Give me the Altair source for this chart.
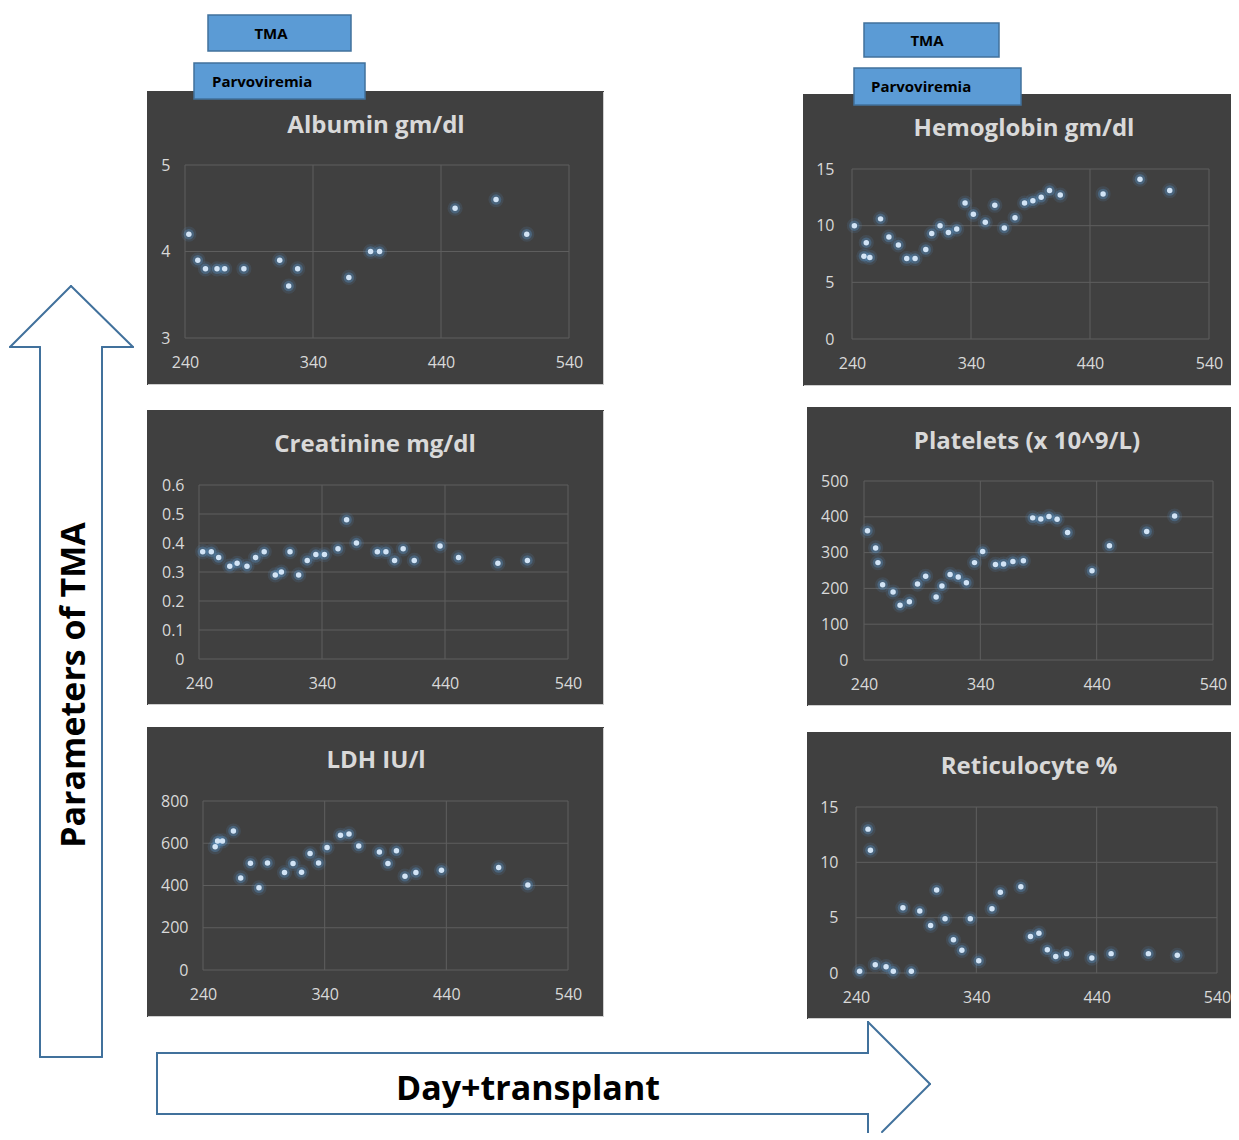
import altair as alt
import pandas as pd

FONT = "Open Sans"
BG = "#404040"
GRID = "#5e5e5e"
LABEL = "#d9d9d9"
BLUE = "#5b9bd5"
BLUE_DARK = "#41719c"
CORE = "#d2e4f6"
EDGE = "#cfcfcf"

x_ticks = [240, 340, 440, 540]

albumin_days = [243, 250, 256, 265, 271, 286, 314, 321, 328, 368, 385, 392, 451, 483, 507]
albumin_vals = [4.2, 3.9, 3.8, 3.8, 3.8, 3.8, 3.9, 3.6, 3.8, 3.7, 4.0, 4.0, 4.5, 4.6, 4.2]
albumin_ticks = [3, 4, 5]

creat_days = [243, 250, 256, 265, 271, 279, 286, 293, 302, 307, 314, 321, 328, 335, 342,
              353, 360, 368, 385, 392, 399, 406, 415, 436, 451, 483, 507]
creat_vals = [0.37, 0.37, 0.35, 0.32, 0.33, 0.32, 0.35, 0.37, 0.29, 0.30, 0.37, 0.29, 0.34, 0.36,
              0.36, 0.38, 0.48, 0.40, 0.37, 0.37, 0.34, 0.38, 0.34, 0.39, 0.35, 0.33, 0.34]
creat_ticks = [0, 0.1, 0.2, 0.3, 0.4, 0.5, 0.6]

ldh_days = [250, 252, 256, 265, 271, 279, 286, 293, 307, 314, 321, 328, 335, 342, 353, 360,
            368, 385, 392, 399, 406, 415, 436, 483, 507]
ldh_vals = [583, 611, 611, 658, 436, 505, 389, 507, 461, 504, 463, 551, 507, 580, 638, 644,
            587, 559, 504, 564, 444, 461, 472, 485, 402]
ldh_ticks = [0, 200, 400, 600, 800]

hgb_days = [242, 250, 252, 255, 264, 271, 279, 286, 293, 302, 307, 314, 321, 328, 335, 342,
            352, 360, 368, 377, 385, 392, 399, 406, 415, 451, 482, 507]
hgb_vals = [10.0, 7.3, 8.5, 7.2, 10.6, 9.0, 8.3, 7.1, 7.1, 7.9, 9.3, 10.0, 9.4, 9.7, 12.0, 11.0,
            10.3, 11.8, 9.8, 10.7, 12.0, 12.2, 12.5, 13.1, 12.7, 12.8, 14.1, 13.1]
hgb_ticks = [0, 5, 10, 15]

plt_days = [243, 250, 252, 256, 265, 271, 279, 286, 293, 302, 307, 314, 321, 328, 335, 342,
            353, 360, 368, 377, 385, 392, 399, 406, 415, 436, 451, 483, 507]
plt_vals = [361, 313, 272, 210, 190, 153, 163, 212, 234, 176, 207, 239, 232, 216, 272, 303,
            267, 268, 275, 277, 397, 394, 401, 393, 356, 249, 319, 359, 402]
plt_ticks = [0, 100, 200, 300, 400, 500]

ret_days = [243, 250, 252, 256, 265, 271, 279, 286, 293, 302, 307, 314, 321, 328, 335, 342,
            353, 360, 377, 385, 392, 399, 406, 415, 436, 452, 483, 507]
ret_vals = [0.15, 13.0, 11.1, 0.75, 0.57, 0.15, 5.9, 0.15, 5.6, 4.3, 7.5, 4.9, 3.0, 2.05, 4.9,
            1.1, 5.8, 7.3, 7.8, 3.3, 3.6, 2.1, 1.5, 1.75, 1.35, 1.75, 1.75, 1.6]
ret_ticks = [0, 5, 10, 15]

titles = ["Albumin gm/dl", "Creatinine mg/dl", "LDH IU/l",
          "Hemoglobin gm/dl", "Platelets (x 10^9/L)", "Reticulocyte %"]

dummy = pd.DataFrame({"d": [0]})

# page-coordinate layout of each panel (decoration / layout only)
G = {
    "alb": dict(plot=(185, 165, 569, 338), rect=(147, 91, 604, 385), box=(147, 13, 604, 385),
                title=(376, 133), ypad=15, edge_right=True),
    "cre": dict(plot=(199, 485, 568, 659), rect=(147, 410, 604, 705), box=(147, 385, 604, 706),
                title=(375, 452), ypad=15, edge_right=True),
    "ldh": dict(plot=(203, 801, 568, 970), rect=(147, 727, 604, 1017), box=(147, 706, 720, 1135),
                title=(376, 768), ypad=15, edge_right=True),
    "hgb": dict(plot=(852, 169, 1209, 339), rect=(803, 94, 1231, 386), box=(720, 13, 1231, 386),
                title=(1024, 136), ypad=18, edge_right=False),
    "plt": dict(plot=(864, 481, 1213, 660), rect=(807, 407, 1231, 706), box=(720, 386, 1231, 706),
                title=(1027, 449), ypad=16, edge_right=False),
    "ret": dict(plot=(856, 807, 1217, 973), rect=(807, 732, 1231, 1019), box=(720, 706, 1231, 1135),
                title=(1029, 774), ypad=18, edge_right=False),
}

LABEL_EXPR = "format(datum.value, '~g')"


def vrect(ox, oy, r, **kw):
    x0, y0, x1, y1 = r
    return alt.Chart(dummy).mark_rect(**kw).encode(
        x=alt.value(x0 - ox), x2=alt.value(x1 - ox), y=alt.value(y0 - oy), y2=alt.value(y1 - oy))


def vrule(ox, oy, p, q, **kw):
    return alt.Chart(dummy).mark_rule(**kw).encode(
        x=alt.value(p[0] - ox), x2=alt.value(q[0] - ox), y=alt.value(p[1] - oy), y2=alt.value(q[1] - oy))


def vtext(ox, oy, pos, txt, **kw):
    return alt.Chart(dummy).mark_text(text=txt, **kw).encode(
        x=alt.value(pos[0] - ox), y=alt.value(pos[1] - oy))


def tma_boxes(ox, oy, tma_box, tma_txt, par_box, par_txt):
    out = []
    for b in (tma_box, par_box):
        out.append(vrect(ox, oy, b, fill=BLUE, stroke=BLUE_DARK, strokeWidth=1.5))
    out.append(vtext(ox, oy, tma_txt, "TMA", font=FONT, fontSize=15, fontWeight="bold",
                     color="black", align="center", baseline="middle"))
    out.append(vtext(ox, oy, par_txt, "Parvoviremia", font=FONT, fontSize=15, fontWeight="bold",
                     color="black", align="left", baseline="middle"))
    return out


def panel(days, vals, title, ticks, g, extras_fn=None):
    px0, py0, px1, py1 = g["plot"]
    bx0, by0, bx1, by1 = g["box"]
    rx0, ry0, rx1, ry1 = g["rect"]
    W, H = bx1 - bx0, by1 - by0
    xs = alt.Scale(domain=[240, 540], range=[px0 - bx0, px1 - bx0], nice=False, zero=False)
    ys = alt.Scale(domain=[ticks[0], ticks[-1]], range=[py1 - by0, py0 - by0], nice=False, zero=False)
    xax = alt.Axis(values=x_ticks, labelExpr=LABEL_EXPR, grid=False, domain=False, ticks=False,
                   labelFlush=False, labelOverlap=False, labelPadding=24, labelBaseline="middle",
                   labelFont=FONT, labelFontSize=16, labelColor=LABEL, title=None, zindex=1,
                   offset=-(by1 - py1))
    yax = alt.Axis(values=ticks, labelExpr=LABEL_EXPR, grid=False, domain=False, ticks=False,
                   labelFlush=False, labelOverlap=False, labelPadding=g["ypad"],
                   labelFont=FONT, labelFontSize=16, labelColor=LABEL, title=None, zindex=1,
                   offset=-(px0 - bx0))
    df = pd.DataFrame({"day": days, "value": vals})
    layers = [
        vrect(bx0, by0, g["rect"], fill=BG),
        vrect(bx0, by0, (rx0 + 1, ry1 - 1, rx1, ry1), fill=EDGE),
    ]
    if g["edge_right"]:
        layers.append(vrect(bx0, by0, (rx1 - 1, ry0 + 1, rx1, ry1), fill=EDGE))
    layers += [
        alt.Chart(pd.DataFrame({"day": x_ticks})).mark_rule(color=GRID, strokeWidth=1).encode(
            x=alt.X("day:Q", scale=xs, axis=xax), y=alt.value(py0 - by0), y2=alt.value(py1 - by0)),
        alt.Chart(pd.DataFrame({"value": ticks})).mark_rule(color=GRID, strokeWidth=1).encode(
            y=alt.Y("value:Q", scale=ys, axis=yax), x=alt.value(px0 - bx0), x2=alt.value(px1 - bx0)),
        alt.Chart(df).mark_circle(size=230, color=BLUE, opacity=0.13).encode(
            x=alt.X("day:Q", scale=xs, axis=xax), y=alt.Y("value:Q", scale=ys, axis=yax)),
        alt.Chart(df).mark_circle(size=110, color=BLUE, opacity=0.32).encode(
            x=alt.X("day:Q", scale=xs, axis=xax), y=alt.Y("value:Q", scale=ys, axis=yax)),
        alt.Chart(df).mark_circle(size=30, color=CORE, opacity=1).encode(
            x=alt.X("day:Q", scale=xs, axis=xax), y=alt.Y("value:Q", scale=ys, axis=yax)),
        vtext(bx0, by0, g["title"], title, font=FONT, fontSize=24, fontWeight="bold",
              color=LABEL, align="center", baseline="alphabetic"),
    ]
    if extras_fn is not None:
        layers += extras_fn(bx0, by0)
    return alt.layer(*layers).properties(width=W, height=H)


def alb_extras(ox, oy):
    return tma_boxes(ox, oy, (208, 15, 351, 51), (271, 34), (194, 63, 365, 99), (212, 82))


def hgb_extras(ox, oy):
    return tma_boxes(ox, oy, (864, 23, 999, 57), (927, 41), (854, 68, 1021, 105), (871, 87))


LW = 2


def ldh_extras(ox, oy):
    return [
        vrect(ox, oy, (156, 1052, 720, 1054), fill=BLUE_DARK),
        vrect(ox, oy, (156, 1113, 720, 1115), fill=BLUE_DARK),
        vrect(ox, oy, (156, 1052, 158, 1115), fill=BLUE_DARK),
        vtext(ox, oy, (528, 1100), "Day+transplant", font=FONT, fontSize=34, fontWeight="bold",
              color="black", align="center", baseline="alphabetic"),
    ]


def ret_extras(ox, oy):
    return [
        vrect(ox, oy, (720, 1052, 869, 1054), fill=BLUE_DARK),
        vrect(ox, oy, (720, 1113, 869, 1115), fill=BLUE_DARK),
        vrect(ox, oy, (867, 1021, 869, 1054), fill=BLUE_DARK),
        vrect(ox, oy, (867, 1113, 869, 1133), fill=BLUE_DARK),
        vrule(ox, oy, (868, 1022), (930, 1084), color=BLUE_DARK, strokeWidth=LW, strokeCap="round"),
        vrule(ox, oy, (930, 1084), (882, 1132), color=BLUE_DARK, strokeWidth=LW, strokeCap="round"),
    ]


p1 = panel(albumin_days, albumin_vals, titles[0], albumin_ticks, G["alb"], alb_extras)
p2 = panel(creat_days, creat_vals, titles[1], creat_ticks, G["cre"])
p3 = panel(ldh_days, ldh_vals, titles[2], ldh_ticks, G["ldh"], ldh_extras)
p4 = panel(hgb_days, hgb_vals, titles[3], hgb_ticks, G["hgb"], hgb_extras)
p5 = panel(plt_days, plt_vals, titles[4], plt_ticks, G["plt"])
p6 = panel(ret_days, ret_vals, titles[5], ret_ticks, G["ret"], ret_extras)

# left "Parameters of TMA" arrow panel, page box x 8-147, y 13-1135
AX, AY = 8, 13
arrow_segments = [((10, 347), (71, 286)), ((71, 286), (133, 347)), ((10, 347), (40, 347)),
                  ((102, 347), (133, 347)), ((40, 347), (40, 1057)), ((102, 347), (102, 1057)),
                  ((40, 1057), (102, 1057))]
arrow_layers = []
for p, q in arrow_segments:
    arrow_layers.append(vrule(AX, AY, p, q, color=BLUE_DARK, strokeWidth=LW, strokeCap="round"))
arrow_layers.append(vtext(AX, AY, (75, 685), "Parameters of TMA", font=FONT, fontSize=34,
                          fontWeight="bold", color="black", align="center", baseline="middle",
                          angle=270))
arrow_chart = alt.layer(*arrow_layers).properties(width=147 - 8, height=1135 - 13)

left_col = alt.vconcat(p1, p2, p3, spacing=0)
right_col = alt.vconcat(p4, p5, p6, spacing=0)

chart = alt.hconcat(arrow_chart, left_col, right_col, spacing=0).properties(
    padding={"left": 0, "top": 5, "right": 0, "bottom": 0},
    background="white",
).configure_view(stroke="transparent", strokeWidth=0)

chart.save("out.html", embed_options={"renderer": "svg", "actions": False})
